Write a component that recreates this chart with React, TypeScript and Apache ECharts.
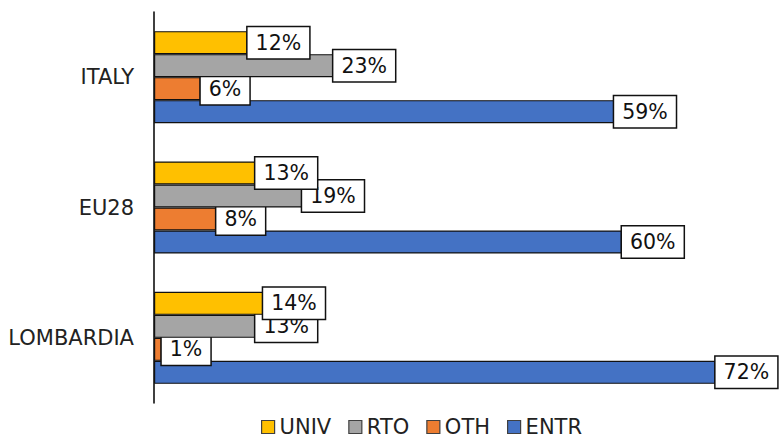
import React, { useEffect, useRef } from "react";
import * as echarts from "echarts";

const categories = ["ITALY", "EU28", "LOMBARDIA"];
const seriesNames = ["UNIV", "RTO", "OTH", "ENTR"];
const univ = [12, 13, 14];
const rto = [23, 19, 13];
const oth = [6, 8, 1];
const entr = [59, 60, 72];
const colors = ["#FFC000", "#A5A5A5", "#ED7D31", "#4472C4"];

export default function App() {
  const ref = useRef<HTMLDivElement>(null);
  useEffect(() => {
    document.body.style.margin = "0";
    const chart = echarts.init(ref.current!, null, { renderer: "svg" });
    const values = [univ, rto, oth, entr];
    const font = "DejaVu Sans";
    chart.setOption({
      animation: false,
      backgroundColor: "#fff",
      textStyle: { fontFamily: font },
      grid: { left: 154, right: 3, top: 12, bottom: 36 },
      legend: {
        data: seriesNames,
        left: 256,
        top: 411,
        itemWidth: 13,
        itemHeight: 13,
        itemGap: 17,
        icon: "rect",
        itemStyle: { borderColor: "#404040", borderWidth: 1.2 },
        textStyle: { fontFamily: font, fontSize: 21, color: "#222", lineHeight: 22 },
      },
      xAxis: {
        type: "value",
        min: 0,
        max: 80,
        show: false,
      },
      yAxis: {
        type: "category",
        data: categories,
        inverse: true,
        axisLine: { show: true, lineStyle: { color: "#000", width: 1.5 } },
        axisTick: { show: false },
        axisLabel: { fontFamily: font, fontSize: 21, color: "#222", margin: 20 },
      },
      series: seriesNames.map((name, i) => ({
        name,
        type: "bar",
        data: values[i],
        barWidth: 23,
        barGap: "0%",
        z: 10 - i,
        itemStyle: {
          color: colors[i],
          borderColor: "#111",
          borderWidth: 1.2,
        },
        label: {
          show: true,
          position: "right",
          distance: 0,
          formatter: "{c}%",
          fontFamily: font,
          fontSize: 20.5,
          color: "#111",
          backgroundColor: "#fff",
          borderColor: "#111",
          borderWidth: 1.5,
          padding: [5, 8, 5, 8],
        },
      })),
    });
    return () => chart.dispose();
  }, []);
  return <div ref={ref} style={{ width: 781, height: 439 }} />;
}
